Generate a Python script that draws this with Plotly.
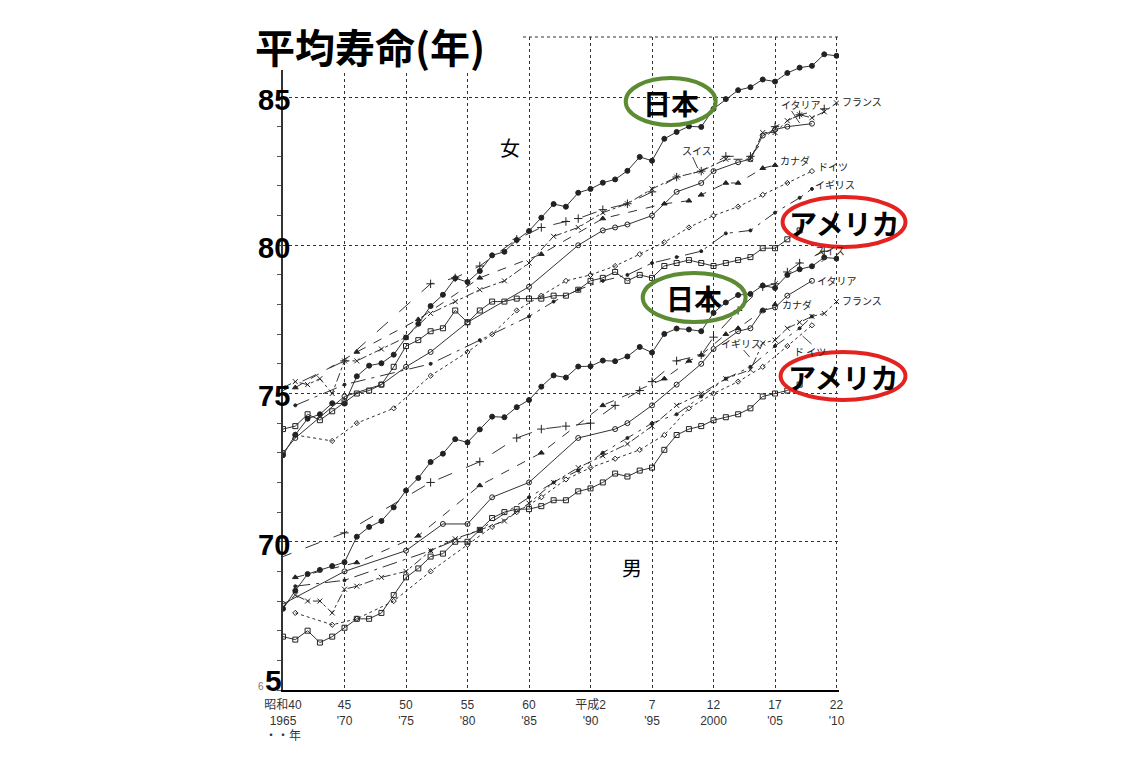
import plotly.graph_objects as go

# --- data ---
years_all = list(range(1965, 2011))
jpn_f = [72.92, 73.61, 74.15, 74.30, 74.67, 74.66, 75.58, 75.94, 76.02, 76.31,
         76.89, 77.35, 77.95, 78.33, 78.89, 78.76, 79.13, 79.66, 79.78, 80.18,
         80.48, 80.93, 81.39, 81.30, 81.77, 81.90, 82.11, 82.22, 82.51, 82.98,
         82.85, 83.59, 83.82, 84.01, 83.99, 84.60, 84.93, 85.23, 85.33, 85.59,
         85.52, 85.81, 85.99, 86.05, 86.44, 86.39]
jpn_m = [67.74, 68.35, 68.91, 69.05, 69.18, 69.31, 70.17, 70.50, 70.70, 71.16,
         71.73, 72.15, 72.69, 72.97, 73.46, 73.35, 73.79, 74.22, 74.20, 74.54,
         74.78, 75.23, 75.61, 75.54, 75.91, 75.92, 76.11, 76.09, 76.25, 76.57,
         76.38, 77.01, 77.19, 77.16, 77.10, 77.72, 78.07, 78.32, 78.36, 78.64,
         78.56, 79.00, 79.19, 79.29, 79.59, 79.55]

usa_years = list(range(1965, 2008))
usa_f = [73.8, 73.9, 74.3, 74.1, 74.4, 74.7, 75.0, 75.1, 75.3, 75.9,
         76.6, 76.8, 77.1, 77.2, 77.8, 77.4, 77.8, 78.1, 78.1, 78.2,
         78.2, 78.2, 78.3, 78.3, 78.5, 78.8, 78.9, 79.1, 78.8, 79.0,
         78.9, 79.3, 79.4, 79.5, 79.4, 79.3, 79.4, 79.5, 79.6, 79.9,
         79.9, 80.2, 80.5]
usa_m = [66.8, 66.7, 67.0, 66.6, 66.8, 67.1, 67.4, 67.4, 67.6, 68.2,
         68.8, 69.1, 69.5, 69.6, 70.0, 70.0, 70.4, 70.8, 71.0, 71.1,
         71.1, 71.2, 71.4, 71.4, 71.7, 71.8, 72.0, 72.3, 72.2, 72.4,
         72.5, 73.1, 73.6, 73.8, 73.9, 74.1, 74.2, 74.3, 74.5, 74.9,
         75.0, 75.1, 75.3]

sui_f_years = [1960, 1970, 1977, 1979, 1981, 1984, 1986, 1988, 1989, 1991,
               1993, 1995, 1997, 1999, 2001, 2003, 2005, 2007, 2009]
sui_f = [74.1, 76.1, 78.7, 78.9, 79.3, 80.2, 80.6, 80.8, 80.9, 81.2,
         81.4, 81.8, 82.3, 82.5, 83.0, 83.0, 84.0, 84.4, 84.6]
sui_m_years = [1960, 1970, 1977, 1981, 1984, 1986, 1988, 1990, 1992, 1994,
               1995, 1997, 1999, 2000, 2002, 2004, 2005, 2006, 2007, 2009]
sui_m = [68.7, 70.3, 72.0, 72.7, 73.5, 73.8, 73.9, 74.0, 74.6, 75.1,
         75.4, 76.1, 76.3, 76.9, 77.8, 78.6, 78.7, 79.1, 79.4, 79.8]

ita_f_years = [1965, 1966, 1970, 1973, 1975, 1977, 1980, 1985, 1989, 1991,
               1992, 1993, 1995, 1997, 1999, 2000, 2002, 2003, 2004, 2005,
               2006, 2008]
ita_f = [73.0, 73.5, 74.9, 75.3, 75.9, 76.4, 77.4, 78.6, 80.0, 80.5,
         80.6, 80.7, 81.0, 81.8, 82.1, 82.5, 82.8, 82.9, 83.7, 83.9,
         84.0, 84.1]
ita_m_years = [1965, 1970, 1975, 1978, 1980, 1982, 1985, 1989, 1992, 1993,
               1995, 1997, 1999, 2000, 2002, 2003, 2004, 2005, 2006, 2008]
ita_m = [67.9, 69.0, 69.7, 70.6, 70.6, 71.5, 72.0, 73.5, 73.8, 74.0,
         74.6, 75.3, 76.0, 76.5, 77.1, 77.2, 77.8, 77.9, 78.3, 78.8]

fra_years = [1965, 1966, 1967, 1968, 1969, 1970, 1971, 1973, 1975, 1977,
             1979, 1981, 1983, 1985, 1987, 1989, 1991, 1993, 1995, 1997,
             1999, 2001, 2003, 2004, 2005, 2006, 2007, 2008, 2009, 2010]
fra_f = [75.2, 75.4, 75.3, 75.5, 75.0, 76.1, 76.1, 76.5, 76.9, 77.7,
         78.1, 78.5, 78.8, 79.4, 80.3, 80.6, 81.1, 81.4, 81.9, 82.3,
         82.5, 82.9, 82.9, 83.8, 83.8, 84.2, 84.4, 84.3, 84.5, 84.8]
fra_m = [67.8, 68.2, 68.0, 68.0, 67.6, 68.4, 68.5, 68.8, 69.0, 69.7,
         70.1, 70.4, 70.7, 71.3, 72.0, 72.5, 72.9, 73.3, 73.9, 74.6,
         75.0, 75.5, 75.8, 76.7, 76.8, 77.2, 77.4, 77.6, 77.7, 78.1]

can_years = [1966, 1971, 1976, 1981, 1986, 1991, 1996, 1998, 1999, 2001,
             2002, 2004, 2005]
can_f = [75.2, 76.4, 77.5, 78.9, 79.7, 80.9, 81.4, 81.5, 81.7, 82.1,
         82.1, 82.6, 82.7]
can_m = [68.8, 69.3, 70.2, 71.9, 73.0, 74.6, 75.5, 76.1, 76.3, 77.0,
         77.2, 77.8, 78.0]

deu_years = [1966, 1969, 1971, 1974, 1977, 1980, 1982, 1984, 1986, 1988,
             1990, 1992, 1994, 1996, 1998, 2000, 2002, 2004, 2006, 2008]
deu_f = [73.6, 73.4, 74.0, 74.5, 75.6, 76.4, 77.0, 77.8, 78.3, 78.8,
         79.0, 79.3, 79.7, 80.1, 80.6, 81.0, 81.3, 81.7, 82.1, 82.5]
deu_m = [67.6, 67.2, 67.4, 68.0, 69.0, 69.9, 70.5, 71.0, 71.5, 72.1,
         72.5, 72.8, 73.1, 73.6, 74.5, 75.0, 75.4, 75.9, 76.6, 77.3]

gbr_years = [1966, 1970, 1977, 1981, 1985, 1987, 1989, 1991, 1993, 1995,
             1997, 1999, 2001, 2003, 2005, 2007, 2008]
gbr_f = [74.6, 75.3, 76.0, 76.8, 77.6, 78.1, 78.5, 78.8, 79.0, 79.4,
         79.6, 79.8, 80.4, 80.5, 81.1, 81.6, 81.9]
gbr_m = [68.5, 68.7, 69.7, 70.4, 71.5, 72.0, 72.4, 73.0, 73.5, 74.0,
         74.3, 74.9, 75.5, 75.9, 76.6, 77.2, 77.6]

x_ticks = [1965, 1970, 1975, 1980, 1985, 1990, 1995, 2000, 2005, 2010]
x_tick_text = ["昭和40<br>1965<br>・・年", "45<br>'70", "50<br>'75", "55<br>'80",
               "60<br>'85", "平成2<br>'90", "7<br>'95", "12<br>2000",
               "17<br>'05", "22<br>'10"]
y_labels = [85, 80, 75, 70]

# pixel geometry (screen pixels; the page body adds an 8px offset)
OFF = 8
L, T, B = 283, 37, 690
PX_YR = (837 - 283) / 45
X0, X1 = 1965, 2010.2
PW = (X1 - X0) * PX_YR
PH = B - T
Y1 = 85 + (97 - T) / ((B - 97) / 20)
FIG_W, FIG_H = 1135 - OFF, 758 - OFF


def pp(x, y):
    return (x - L) / PW, (B - y) / PH


def note(x, y, text, size, color="black", family="Noto Sans CJK JP", bold=False,
         xanchor="center", height=None):
    ax, ay = pp(x, y)
    font = dict(family=family, size=size, color=color)
    if bold:
        font["weight"] = "bold"
    a = dict(x=ax, y=ay, xref="paper", yref="paper", text=text, showarrow=False,
             xanchor=xanchor, yanchor="middle", font=font)
    if height:
        a["height"] = height
    return a


styles = {
    "日本": dict(dash="solid", symbol="circle", size=5),
    "アメリカ": dict(dash="solid", symbol="square-open", size=5),
    "スイス": dict(dash="longdash", symbol="cross-thin-open", size=6),
    "イタリア": dict(dash="solid", symbol="circle-open", size=5),
    "フランス": dict(dash="dashdot", symbol="x-thin-open", size=5),
    "カナダ": dict(dash="dash", symbol="triangle-up", size=5),
    "ドイツ": dict(dash="dot", symbol="diamond-open", size=4),
    "イギリス": dict(dash="longdashdot", symbol="circle", size=3),
}

series = [
    ("日本", years_all, jpn_f), ("日本", years_all, jpn_m),
    ("アメリカ", usa_years, usa_f), ("アメリカ", usa_years, usa_m),
    ("スイス", sui_f_years, sui_f), ("スイス", sui_m_years, sui_m),
    ("イタリア", ita_f_years, ita_f), ("イタリア", ita_m_years, ita_m),
    ("フランス", fra_years, fra_f), ("フランス", fra_years, fra_m),
    ("カナダ", can_years, can_f), ("カナダ", can_years, can_m),
    ("ドイツ", deu_years, deu_f), ("ドイツ", deu_years, deu_m),
    ("イギリス", gbr_years, gbr_f), ("イギリス", gbr_years, gbr_m),
]

fig = go.Figure()
for name, xs, ys in series:
    st = styles[name]
    fig.add_trace(go.Scatter(
        x=xs, y=ys, mode="lines+markers", name=name, showlegend=False,
        line=dict(color="#333333", width=1, dash=st["dash"]),
        marker=dict(symbol=st["symbol"], size=st["size"], color="#222222",
                    line=dict(width=1, color="#222222")),
        cliponaxis=True,
    ))

annotations = []
# y labels (big bold, pasted over the original small ones)
for v in y_labels:
    px_y = 97 + (85 - v) * (B - 97) / 20
    annotations.append(note(292, px_y + 3, str(v), 29, family="Liberation Sans",
                            bold=True, xanchor="right"))
annotations.append(note(284, 680, "5", 30, family="Liberation Sans", bold=True,
                        xanchor="right", height=22))
annotations.append(note(266, 686, "6", 10, color="#777", family="Liberation Sans",
                        xanchor="right", height=10))

# title
annotations.append(note(370, 46, "平均寿命(年)", 40, bold=True))

# 女 / 男
annotations.append(note(510, 148, "女", 20))
annotations.append(note(632, 567, "男", 20))

# country labels
country_labels = [
    ("フランス", 862, 101), ("イタリア", 801, 105), ("スイス", 697, 150),
    ("カナダ", 795, 160), ("ドイツ", 833, 166), ("イギリス", 835, 184),
    ("スイス", 830, 251), ("イタリア", 837, 280), ("カナダ", 797, 304),
    ("フランス", 862, 300), ("イギリス", 741, 343), ("ド イツ", 810, 351),
]
for txt, x, y in country_labels:
    annotations.append(note(x, y, txt, 10, color="#222"))

shapes = []
# short leader lines from labels to their series
leaders = [(693, 157, 698, 168), (792, 111, 800, 123), (744, 350, 750, 357),
           (803, 336, 812, 344), (827, 257, 822, 262)]
for x0, y0, x1, y1 in leaders:
    a0, b0 = pp(x0, y0)
    a1, b1 = pp(x1, y1)
    shapes.append(dict(type="line", xref="paper", yref="paper", x0=a0, y0=b0,
                       x1=a1, y1=b1, line=dict(color="#444", width=1)))

# circled callouts
GREEN, RED = "#5b8b32", "#e42320"
callouts = [
    ("日本", GREEN, (626, 78, 716, 125)),
    ("アメリカ", RED, (783, 197, 906, 247)),
    ("日本", GREEN, (643, 273, 746, 322)),
    ("アメリカ", RED, (781, 352, 906, 400)),
]
for txt, col, (x0, y0, x1, y1) in callouts:
    a0, b0 = pp(x0, y1)
    a1, b1 = pp(x1, y0)
    shapes.append(dict(type="circle", xref="paper", yref="paper", x0=a0, y0=b0,
                       x1=a1, y1=b1, line=dict(color=col, width=4), layer="above"))
    annotations.append(note((x0 + x1) / 2, (y0 + y1) / 2 + 1, txt, 28, bold=True))

# top dotted border
shapes.append(dict(type="line", xref="paper", yref="paper", x0=0, x1=1, y0=1, y1=1,
                   line=dict(color="#333", width=1, dash="dot"), layer="below"))
# white box behind the title
a0, b0 = pp(238, 70)
a1, b1 = pp(522, 14)
shapes.append(dict(type="rect", xref="paper", yref="paper", x0=a0, y0=b0, x1=a1, y1=b1,
                   fillcolor="white", line=dict(width=0), layer="above"))

fig.update_layout(
    width=FIG_W, height=FIG_H, autosize=False,
    margin=dict(l=L - OFF, r=FIG_W - (L - OFF) - PW, t=T - OFF, b=FIG_H - (B - OFF),
                pad=0, autoexpand=False),
    paper_bgcolor="white", plot_bgcolor="white",
    shapes=shapes, annotations=annotations, showlegend=False,
    xaxis=dict(range=[X0, X1], tickvals=x_ticks, ticktext=x_tick_text,
               showgrid=True, gridcolor="#333", griddash="dot", gridwidth=1,
               zeroline=False, showline=True, linecolor="black", linewidth=1.5,
               ticks="", automargin=False, ticklabelstandoff=3,
               tickfont=dict(family="Liberation Sans, Noto Sans CJK JP",
                             size=12, color="#333")),
    yaxis=dict(range=[65, Y1], tick0=65, dtick=5, showticklabels=False,
               showgrid=True, gridcolor="#333", griddash="dot", gridwidth=1,
               zeroline=False, showline=True, linecolor="#333", linewidth=1.5,
               ticks="outside", ticklen=4, tickcolor="#555", automargin=False,
               minor=dict(dtick=1, ticks="outside", ticklen=4, tickcolor="#555",
                          showgrid=False)),
)

fig.write_html("out.html")
